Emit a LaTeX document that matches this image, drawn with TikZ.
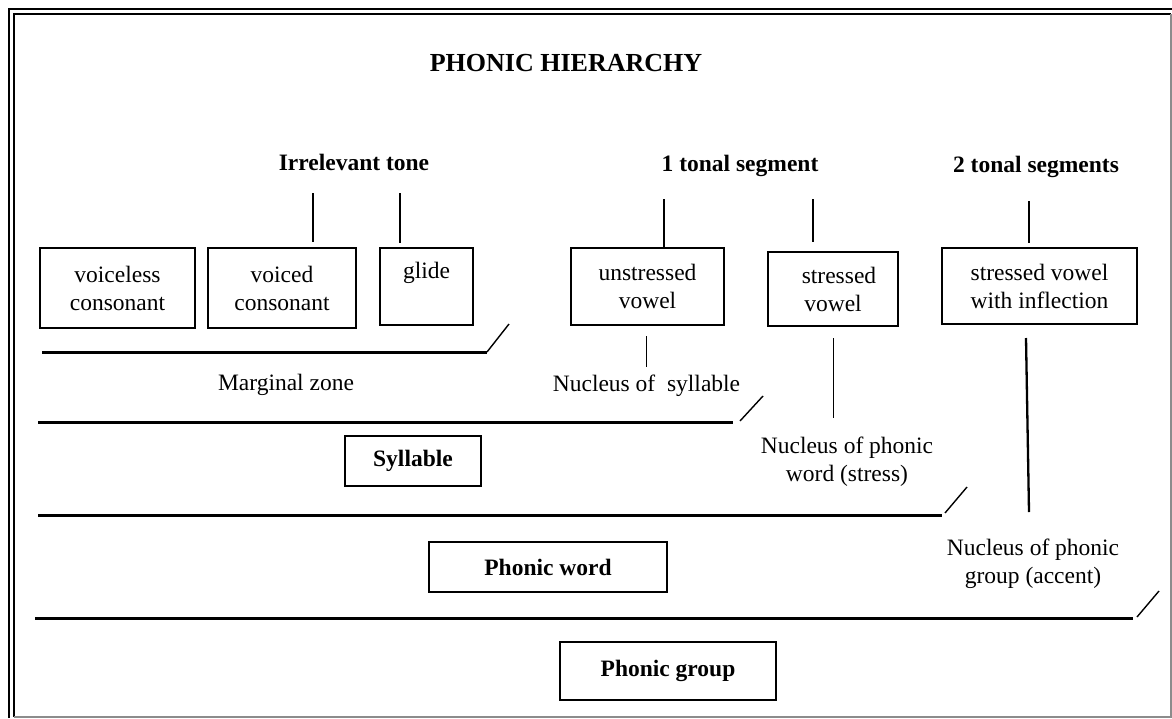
\documentclass[tikz,border=0pt]{standalone}
\usepackage{fontspec}
\setmainfont{Liberation Serif}
\begin{document}
\begin{tikzpicture}[x=1pt,y=-1pt,
  unit/.style={draw,line width=2.2pt,align=center,inner sep=0pt,font=\fontsize{23.5}{28}\selectfont},
  rank/.style={draw,line width=2.2pt,inner sep=0pt,font=\fontsize{23.5}{28}\selectfont\bfseries},
  head/.style={anchor=base,font=\fontsize{23.5}{28}\selectfont\bfseries},
  note/.style={align=center,font=\fontsize{23.5}{28}\selectfont},
  stem/.style={line width=2.3pt},
  thinstem/.style={line width=1pt},
  zone/.style={line width=3pt},
  cut/.style={line width=1.4pt}]
 \useasboundingbox (0,0) rectangle (1172,718);
 % frame
 \draw [line width=2.6pt] (9,718) -- (9,9) -- (1172,9);
 \draw [line width=2pt] (14,717) -- (14,14) -- (1171,14);
 \draw [black!45,line width=1.6pt] (1171,14) -- (1171,717) -- (14,717);
 % headings
 \node [head,font=\fontsize{26}{30}\selectfont\bfseries] (title) at (566,71) {PHONIC HIERARCHY};
 \node [head] (irrel) at (354,170) {Irrelevant tone};
 \node [head] (onetone) at (740,171) {1 tonal segment};
 \node [head] (twotone) at (1036,172) {2 tonal segments};
 % segment boxes
 \node [unit,minimum width=155,minimum height=80] (vless) at (117.5,288) {voiceless\\consonant};
 \node [unit,minimum width=148,minimum height=80] (voiced) at (282,288) {voiced\\consonant};
 \node [unit,minimum width=93,minimum height=77] (glide) at (426.5,286.5) {glide\\\phantom{g}};
 \node [unit,minimum width=153,minimum height=77] (unstr) at (647.5,286.5) {unstressed\\vowel};
 \node [unit,minimum width=130,minimum height=74] (str) at (833,289) {\hspace*{12pt}stressed\\vowel};
 \node [unit,minimum width=195,minimum height=76] (infl) at (1039.5,286) {stressed vowel\\with inflection};
 % stems from the tone headings
 \coordinate (sA) at (313,193); \coordinate (eA) at (313,242);
 \coordinate (sB) at (400,193); \coordinate (eB) at (400,243);
 \coordinate (sC) at (664,199); \coordinate (eC) at (664,247);
 \coordinate (sD) at (813,199); \coordinate (eD) at (813,242);
 \coordinate (sE) at (1029,201); \coordinate (eE) at (1029,243);
 \draw [stem] (sA) -- (eA);
 \draw [stem] (sB) -- (eB);
 \draw [stem] (sC) -- (eC);
 \draw [stem] (sD) -- (eD);
 \draw [stem] (sE) -- (eE);
 % nuclei
 \coordinate (nA) at (646,336); \coordinate (mA) at (646,367);
 \coordinate (nB) at (833,338); \coordinate (mB) at (833,418);
 \coordinate (nC) at (1026,338); \coordinate (mC) at (1029,512);
 \draw [thinstem] (nA) -- (mA);
 \draw [thinstem] (nB) -- (mB);
 \draw [stem] (nC) -- (mC);
 \node [note] (margin) at (286,385) {Marginal zone};
 \node [note] (nucsyl) at (646.5,386) {Nucleus of\ \ syllable};
 \node [note] (nucword) at (847,461.5) {Nucleus of phonic\\word (stress)};
 \node [note] (nucgroup) at (1033,564) {Nucleus of phonic\\group (accent)};
 % zone lines
 \coordinate (zA) at (42,352); \coordinate (zA') at (487,352); \coordinate (cA) at (509,324);
 \coordinate (zB) at (38,422); \coordinate (zB') at (733,422);
 \coordinate (cB) at (740,421); \coordinate (cB') at (763,396);
 \coordinate (zC) at (38,515); \coordinate (zC') at (942,515);
 \coordinate (cC) at (945,513); \coordinate (cC') at (967,487);
 \coordinate (zD) at (35,618); \coordinate (zD') at (1133,618);
 \coordinate (cD) at (1137,617); \coordinate (cD') at (1159,591);
 \draw [zone] (zA) -- (zA');
 \draw [cut] (zA') -- (cA);
 \draw [zone] (zB) -- (zB');
 \draw [cut] (cB) -- (cB');
 \draw [zone] (zC) -- (zC');
 \draw [cut] (cC) -- (cC');
 \draw [zone] (zD) -- (zD');
 \draw [cut] (cD) -- (cD');
 % ranks
 \node [rank,minimum width=136,minimum height=50] (syll) at (413,461) {Syllable};
 \node [rank,minimum width=238,minimum height=50] (pword) at (548,567) {Phonic word};
 \node [rank,minimum width=216,minimum height=58] (pgroup) at (668,671) {Phonic group};
\end{tikzpicture}
\end{document}
